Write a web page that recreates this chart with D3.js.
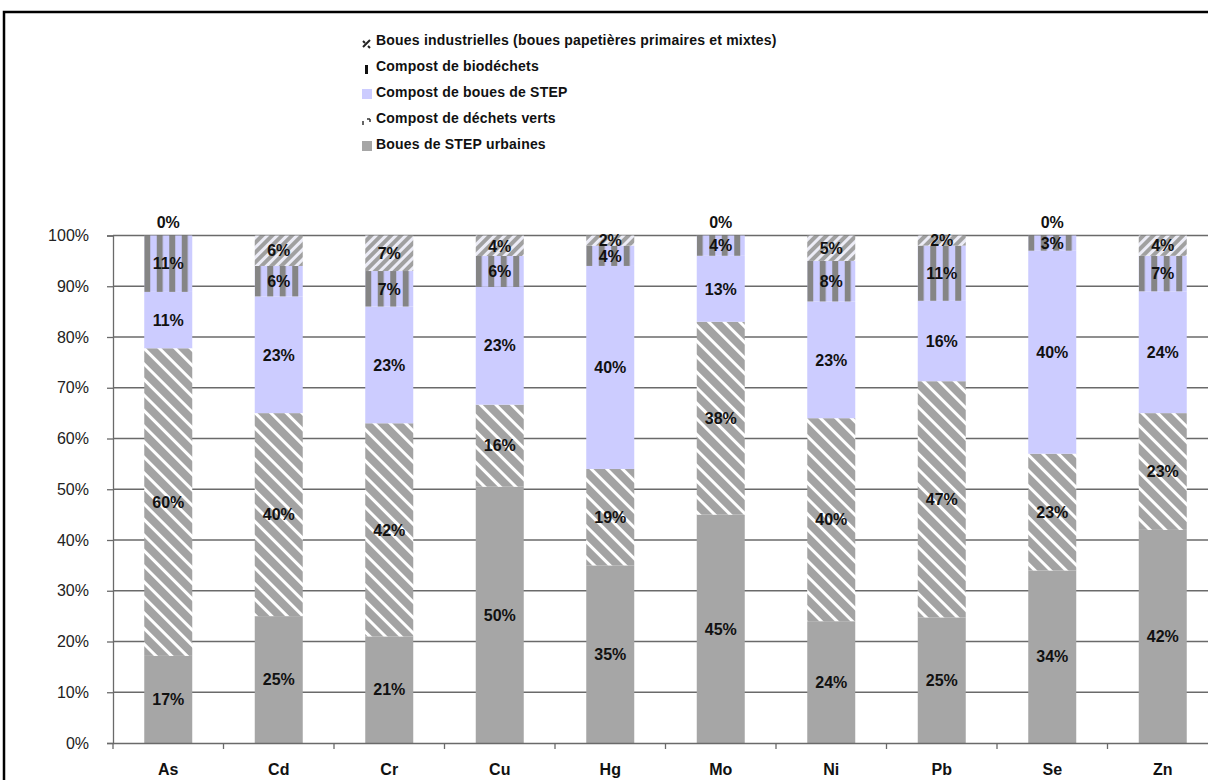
<!DOCTYPE html>
<html><head><meta charset="utf-8">
<script src="https://cdn.jsdelivr.net/npm/d3@7"></script>
<style>
html,body{margin:0;padding:0;background:#fff;}
svg{display:block;font-family:"Liberation Sans",Arial,sans-serif;}
</style></head>
<body>
<svg id="chart" width="1208" height="780"></svg>
<script>
// ---- data ----
const categories = ["As","Cd","Cr","Cu","Hg","Mo","Ni","Pb","Se","Zn"];
const seriesNames = [
  "Boues de STEP urbaines",
  "Compost de déchets verts",
  "Compost de boues de STEP",
  "Compost de biodéchets",
  "Boues industrielles (boues papetières primaires et mixtes)"
];
const bouesStep      = [17,25,21,50,35,45,24,25,34,42];
const compostVerts   = [60,40,42,16,19,38,40,47,23,23];
const compostBouesStep = [11,23,23,23,40,13,23,16,40,24];
const compostBiodechets = [11,6,7,6,4,4,8,11,3,7];
const bouesIndustrielles = [0,6,7,4,2,0,5,2,0,4];
const yTicks = [0,0.1,0.2,0.3,0.4,0.5,0.6,0.7,0.8,0.9,1];

const seriesValues = [bouesStep, compostVerts, compostBouesStep, compostBiodechets, bouesIndustrielles];

const svg = d3.select("#chart");
const defs = svg.append("defs");

// frame
svg.append("path").attr("d","M4,790 L4,12 L1220,12").attr("fill","none").attr("stroke","#000").attr("stroke-width",2.5);

const x0 = 113, stepW = 110.5;
const x = d3.scaleBand().domain(categories).range([x0, x0 + stepW*categories.length])
  .paddingInner(1 - 48/stepW).paddingOuter((1 - 48/stepW)/2);
const y = d3.scaleLinear().domain([0,1]).range([743, 235.5]);

// normalized stacked data
const table = categories.map((c,i) => {
  const row = {cat:c};
  const tot = d3.sum(seriesValues, s => s[i]);
  seriesNames.forEach((n,k) => { row[n] = seriesValues[k][i]/tot; });
  return row;
});
const stack = d3.stack().keys(seriesNames)(table);

// patterns
function diagPattern(id, angle, period, fgW, fg, bg) {
  const p = defs.append("pattern").attr("id",id).attr("patternUnits","userSpaceOnUse")
    .attr("width",period).attr("height",period).attr("patternTransform",`rotate(${angle})`);
  p.append("rect").attr("width",period).attr("height",period).attr("fill",bg);
  p.append("rect").attr("width",fgW).attr("height",period).attr("fill",fg);
}
diagPattern("verts", -45, 11, 8, "#a3a3a3", "#ffffff");
diagPattern("indus", 45, 7, 4, "#a0a0a0", "#ececf6");
categories.forEach((c,i) => {
  const p = defs.append("pattern").attr("id","bio"+i).attr("patternUnits","userSpaceOnUse")
    .attr("x", x(c)).attr("width",12.5).attr("height",10);
  p.append("rect").attr("width",12.5).attr("height",10).attr("fill","#ccccff");
  p.append("rect").attr("width",6).attr("height",10).attr("fill","#858585");
});
const fills = [
  () => "#a6a6a6",
  () => "url(#verts)",
  () => "#ccccff",
  (i) => `url(#bio${i})`,
  () => "url(#indus)"
];

// gridlines
svg.append("g").selectAll("line").data(yTicks.filter(t => t>0)).join("line")
  .attr("x1",x0).attr("x2",1220).attr("y1",d=>y(d)).attr("y2",d=>y(d))
  .attr("stroke","#6a6a6a").attr("stroke-width",1.3);

// bars
stack.forEach((layer,k) => {
  svg.append("g").selectAll("rect").data(layer).join("rect")
    .attr("x",(d,i)=>x(categories[i])).attr("width",x.bandwidth())
    .attr("y",d=>y(d[1])).attr("height",d=>Math.max(0,y(d[0])-y(d[1])))
    .attr("fill",(d,i)=>fills[k](i));
});

// y axis
const yAxis = d3.axisLeft(y).tickValues(yTicks).tickFormat(d3.format(".0%")).tickSize(6).tickPadding(18);
const gy = svg.append("g").attr("transform",`translate(${x0},0)`).call(yAxis);
gy.select(".domain").attr("stroke","#6a6a6a").attr("stroke-width",1.3);
gy.selectAll(".tick line").attr("stroke","#6a6a6a").attr("stroke-width",1.3);
gy.selectAll(".tick text").attr("font-size",16).attr("fill","#222").attr("font-family","Liberation Sans, Arial, sans-serif");

// x axis
const xAxis = d3.axisBottom(x).tickSize(0).tickPadding(21);
const gx = svg.append("g").attr("transform",`translate(0,${y(0)})`).call(xAxis);
gx.select(".domain").attr("stroke","#6a6a6a").attr("stroke-width",1.3);
gx.selectAll(".tick text").attr("font-size",16).attr("font-weight","bold").attr("fill","#111").attr("font-family","Liberation Sans, Arial, sans-serif");
svg.append("g").selectAll("line").data(d3.range(categories.length+1)).join("line")
  .attr("x1",i=>x0+i*stepW).attr("x2",i=>x0+i*stepW).attr("y1",y(0)).attr("y2",y(0)+6)
  .attr("stroke","#6a6a6a").attr("stroke-width",1.3);

// value labels
const labelG = svg.append("g").attr("font-size",16).attr("font-weight","bold").attr("fill","#111").attr("text-anchor","middle");
categories.forEach((c,i) => {
  const labs = stack.map((layer,k) => {
    const d = layer[i];
    const raw = seriesValues[k][i];
    let yy = raw === 0 ? y(d[1]) - 13 : (y(d[0])+y(d[1]))/2;
    return {raw, yy};
  });
  for (let k=1;k<labs.length;k++) {
    if (labs[k].yy > labs[k-1].yy - 15) labs[k].yy = labs[k-1].yy - 15;
  }
  labs.forEach(l => {
    labelG.append("text").attr("x",x(c)+x.bandwidth()/2).attr("y",l.yy).attr("dy","0.36em").text(l.raw+"%");
  });
});

// legend
const legendOrder = [4,3,2,1,0];
const lg = svg.append("g").attr("transform","translate(362,40)");
legendOrder.forEach((k,j) => {
  const g = lg.append("g").attr("transform",`translate(0,${j*26})`);
  if (k===0) g.append("rect").attr("x",0).attr("y",-3).attr("width",10).attr("height",10).attr("fill","#a6a6a6");
  if (k===2) g.append("rect").attr("x",0).attr("y",-3).attr("width",10).attr("height",10).attr("fill","#ccccff");
  if (k===3) g.append("rect").attr("x",3).attr("y",-1).attr("width",3).attr("height",9).attr("fill","#111");
  if (k===4) {
    g.append("path").attr("d","M1,7 L4,4 M4,4 L8,0 M1,1 L3,3 M6,6 L8,8").attr("stroke","#222").attr("stroke-width",2);
  }
  if (k===1) {
    g.append("path").attr("d","M1,3 L1,7 M5,1 L8,1 M8,1 L8,4").attr("stroke","#333").attr("stroke-width",1.5).attr("fill","none");
  }
  g.append("text").attr("x",14).attr("y",0).attr("dy","0.36em")
    .attr("font-size",14).attr("font-weight","bold").attr("letter-spacing",0.2).attr("fill","#111")
    .text(seriesNames[k]);
});
</script>
</body></html>
